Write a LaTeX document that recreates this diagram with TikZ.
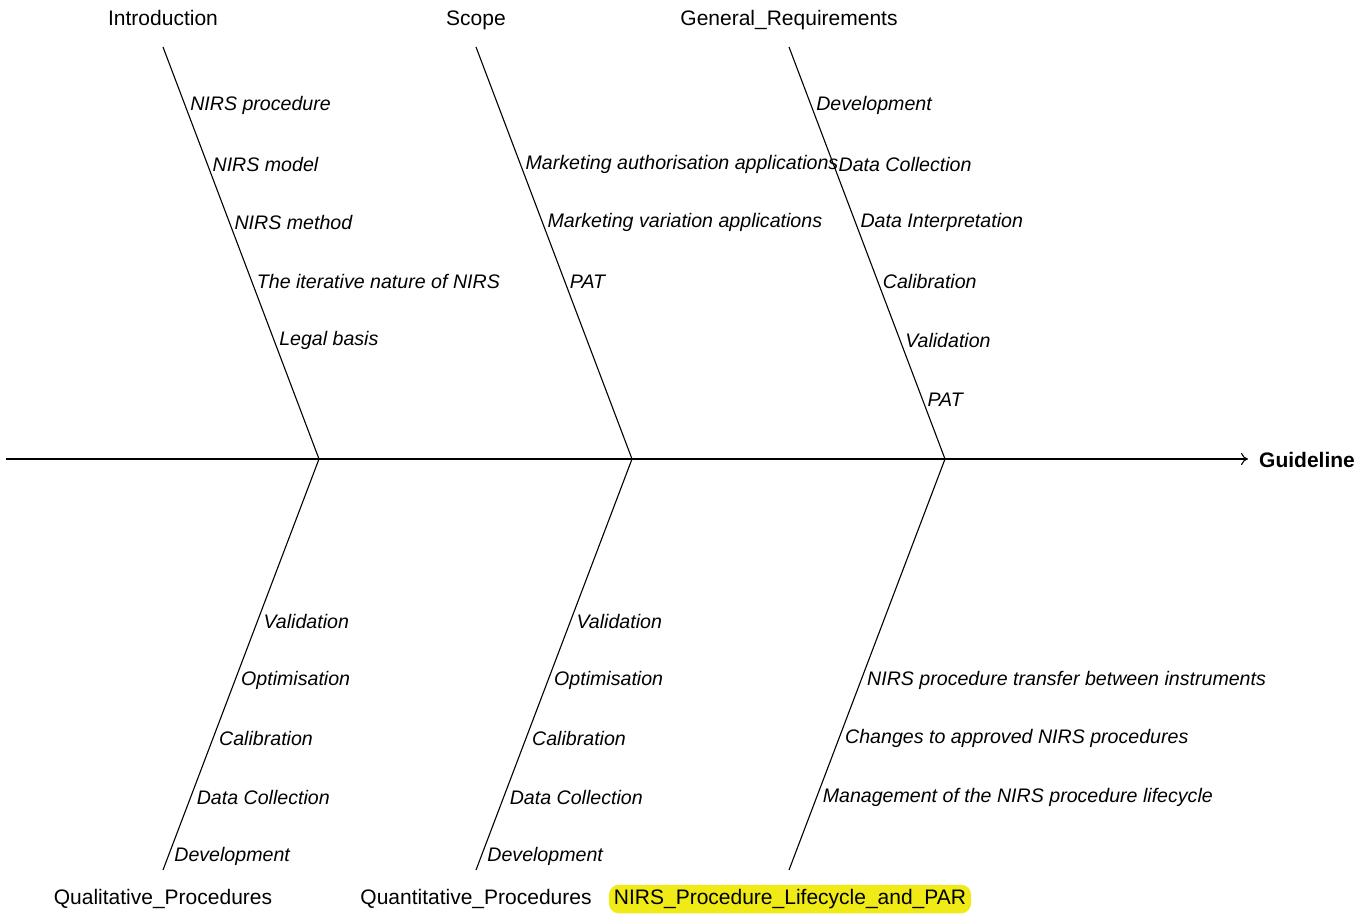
\documentclass[tikz,border=0pt]{standalone}
\usepackage{fontspec}
\setmainfont{Liberation Sans}
\usetikzlibrary{arrows.meta}
\definecolor{marker}{RGB}{240,234,22}
\begin{document}
\begin{tikzpicture}[x=1pt,y=-1pt,
  bone/.style={draw=black,line width=1.1pt},
  cat/.style={font=\fontsize{21}{25}\selectfont,inner sep=0pt},
  item/.style={font=\fontsize{19.6}{23}\selectfont\itshape,anchor=west,inner sep=0pt,xshift=5.5pt,yshift=-1.5pt},
  hl/.style={fill=marker,rounded corners=10pt,inner xsep=5pt,inner ysep=4.5pt}]
\useasboundingbox (0,0) rectangle (1372,913);
% spine
\coordinate (tail) at (6,459);
\coordinate (head) at (1248,459);
\draw[line width=1.1pt,-{To[length=7pt,width=12pt]}] (tail) -- (head);
\node[anchor=west,font=\fontsize{21}{25}\selectfont\bfseries,inner sep=0pt] (effect) at (1259,460) {Guideline};
% hubs on the spine
\coordinate (h1) at (319,459);
\coordinate (h2) at (632,459);
\coordinate (h3) at (945,459);
% upper bones
\coordinate (t1) at (163,47);
\coordinate (t2) at (476,47);
\coordinate (t3) at (789,47);
% lower bones
\coordinate (b1) at (163,870);
\coordinate (b2) at (476,870);
\coordinate (b3) at (789,870);
\draw[bone] (t1) -- (h1) -- (b1);
\draw[bone] (t2) -- (h2) -- (b2);
\draw[bone] (t3) -- (h3) -- (b3);
% category labels
\node[cat,anchor=base] (c1) at (163,25.5) {Introduction};
\node[cat,anchor=base] (c2) at (476,25.5) {Scope};
\node[cat,anchor=base] (c3) at (789,25.5) {General\_Requirements};
\node[cat,anchor=base] (c4) at (163,904.5) {Qualitative\_Procedures};
\node[cat,anchor=base] (c5) at (476,904.5) {Quantitative\_Procedures};
\node[cat,hl,anchor=base] (c6) at (790,904.5) {NIRS\_Procedure\_Lifecycle\_and\_PAR};
% Introduction
\path (t1) -- (h1)
  node[item,pos=0.1383] {NIRS procedure}
  node[item,pos=0.2816] {NIRS model}
  node[item,pos=0.4223] {NIRS method}
  node[item,pos=0.5655] {The iterative nature of NIRS}
  node[item,pos=0.7087] {Legal basis};
% Scope
\path (t2) -- (h2)
  node[item,pos=0.2816] {Marketing authorisation applications}
  node[item,pos=0.4223] {Marketing variation applications}
  node[item,pos=0.5655] {PAT};
% General requirements
\path (t3) -- (h3)
  node[item,pos=0.1383] {Development}
  node[item,pos=0.2816] {Data Collection}
  node[item,pos=0.4223] {Data Interpretation}
  node[item,pos=0.5655] {Calibration}
  node[item,pos=0.7087] {Validation}
  node[item,pos=0.8519] {PAT};
% Qualitative procedures
\path (h1) -- (b1)
  node[item,pos=0.3917] {Validation}
  node[item,pos=0.5353] {Optimisation}
  node[item,pos=0.6764] {Calibration}
  node[item,pos=0.8200] {Data Collection}
  node[item,pos=0.9635] {Development};
% Quantitative procedures
\path (h2) -- (b2)
  node[item,pos=0.3917] {Validation}
  node[item,pos=0.5353] {Optimisation}
  node[item,pos=0.6764] {Calibration}
  node[item,pos=0.8200] {Data Collection}
  node[item,pos=0.9635] {Development};
% Lifecycle and PAR
\path (h3) -- (b3)
  node[item,pos=0.5353] {NIRS procedure transfer between instruments}
  node[item,pos=0.6764] {Changes to approved NIRS procedures}
  node[item,pos=0.8200] {Management of the NIRS procedure lifecycle};
\end{tikzpicture}
\end{document}
